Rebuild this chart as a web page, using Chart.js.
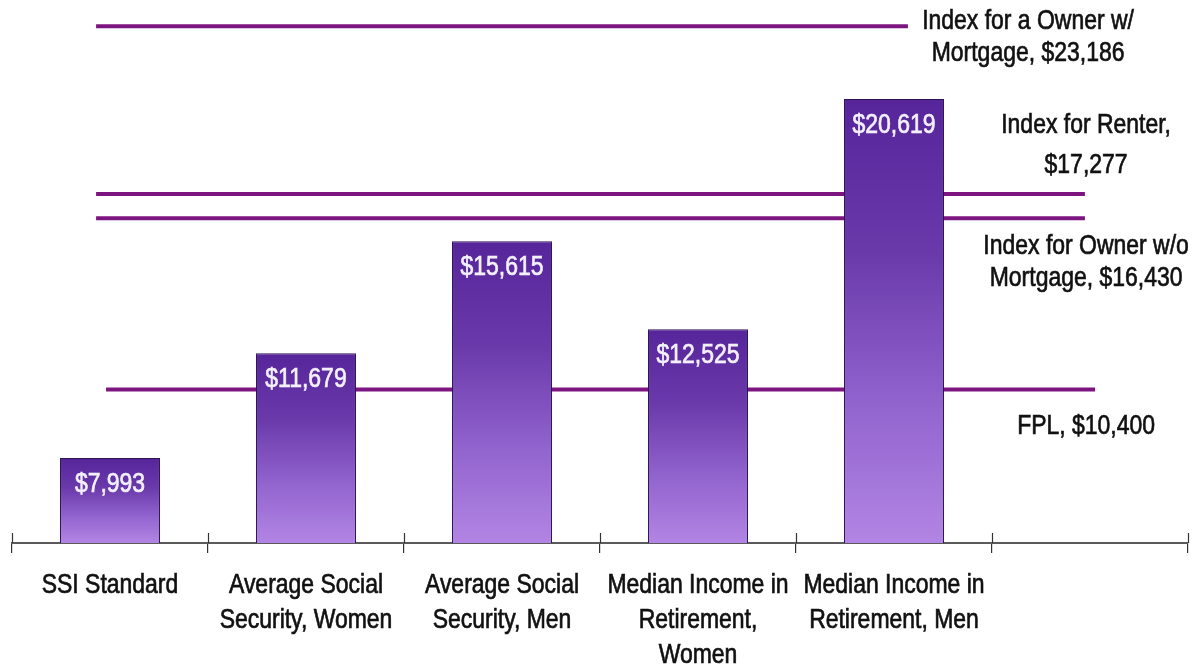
<!DOCTYPE html>
<html>
<head>
<meta charset="utf-8">
<script src="https://cdn.jsdelivr.net/npm/chart.js@4.4.1/dist/chart.umd.min.js"></script>
<style>
  html, body { margin: 0; padding: 0; background: #ffffff; }
  #wrap { width: 1194px; height: 669px; }
</style>
</head>
<body>
<div id="wrap"><canvas id="c" width="1194" height="669"></canvas></div>
<script>
// ---- data ----
const categories = [
  "SSI Standard",
  ["Average Social", "Security, Women"],
  ["Average Social", "Security, Men"],
  ["Median Income in", "Retirement,", "Women"],
  ["Median Income in", "Retirement, Men"],
  ""
];
const incomeValues = [7993, 11679, 15615, 12525, 20619, null];
const barLabels = ["$7,993", "$11,679", "$15,615", "$12,525", "$20,619", ""];

const refNames = ["Owner w/ Mortgage", "Renter", "Owner w/o Mortgage", "FPL"];
const refValues = [23186, 17277, 16430, 10400];
// horizontal extent of each reference line, in category units (-0.5 .. 5.5)
const refStart = [-0.071, -0.071, -0.071, -0.020];
const refEnd = [4.071, 4.974, 4.974, 5.026];
const refLabels = [
  ["Index for a Owner w/", "Mortgage, $23,186"],
  ["Index for Renter,", "$17,277"],
  ["Index for Owner w/o", "Mortgage, $16,430"],
  ["FPL, $10,400"]
];
// label anchor (category units, value of first text line centre)
const refLabelX = [4.684, 4.98, 4.98, 4.98];
const refLabelY = [23367, 19707, 15450, 9117];
const refLabelGap = [32, 40, 32, 0];

const yMin = 5000, yMax = 24000;

const FONT_FAMILY = '"Liberation Sans", Arial, sans-serif';
const FONT_SIZE = 28;
const NARROW = 0.82; // horizontal squeeze to mimic Arial Narrow

function narrowText(ctx, text, x, y, color) {
  ctx.save();
  ctx.translate(x, y);
  ctx.scale(NARROW, 1);
  ctx.fillStyle = color;
  ctx.strokeStyle = color;
  ctx.lineWidth = 0.7;
  ctx.fillText(text, 0, 0);
  ctx.strokeText(text, 0, 0);
  ctx.restore();
}

// ---- datasets ----
const datasets = [{
  type: 'bar',
  label: 'Income',
  data: incomeValues,
  xAxisID: 'x',
  yAxisID: 'y',
  order: 0,
  grouped: false,
  categoryPercentage: 1.0,
  barPercentage: 0.51,
  borderColor: '#2e1254',
  borderWidth: 1,
  borderSkipped: false,
  backgroundColor: (ctx) => {
    const chart = ctx.chart;
    const area = chart.chartArea;
    const v = incomeValues[ctx.dataIndex];
    if (!area || v == null) return '#7a4cb8';
    const top = chart.scales.y.getPixelForValue(v);
    const g = chart.ctx.createLinearGradient(0, top, 0, area.bottom);
    g.addColorStop(0, '#56259a');
    g.addColorStop(0.35, '#6a3aab');
    g.addColorStop(0.7, '#9365cf');
    g.addColorStop(1, '#b285e4');
    return g;
  }
}];
refValues.forEach((v, i) => {
  datasets.push({
    type: 'line',
    label: refNames[i],
    data: [{ x: refStart[i], y: v }, { x: refEnd[i], y: v }],
    xAxisID: 'xl',
    yAxisID: 'y',
    order: 1,
    borderColor: '#7d1580',
    borderWidth: 4,
    pointRadius: 0,
    fill: false,
    tension: 0
  });
});

// ---- plugins ----
const extras = {
  id: 'extras',
  beforeDatasetsDraw(chart) {
    // upper half of the category tick marks
    const ctx = chart.ctx;
    const xl = chart.scales.xl;
    const bottom = chart.chartArea.bottom;
    ctx.save();
    ctx.strokeStyle = '#333333';
    ctx.lineWidth = 1.2;
    for (let i = 0; i <= categories.length; i++) {
      const px = Math.round(xl.getPixelForValue(i - 0.5)) + 0.5;
      ctx.beginPath();
      ctx.moveTo(px, bottom - 10);
      ctx.lineTo(px, bottom);
      ctx.stroke();
    }
    ctx.restore();
  },
  afterDatasetsDraw(chart) {
    const ctx = chart.ctx;
    const meta = chart.getDatasetMeta(0);
    ctx.save();
    ctx.font = FONT_SIZE + 'px ' + FONT_FAMILY;
    ctx.textAlign = 'center';
    ctx.textBaseline = 'middle';
    meta.data.forEach((el, i) => {
      if (incomeValues[i] == null) return;
      narrowText(ctx, barLabels[i], el.x, el.y + 26, '#f4f0fa');
    });
    // reference line labels
    const xl = chart.scales.xl, y = chart.scales.y;
    refLabels.forEach((lines, i) => {
      const cx = xl.getPixelForValue(refLabelX[i]);
      const cy = y.getPixelForValue(refLabelY[i]);
      lines.forEach((t, j) => narrowText(ctx, t, cx, cy + j * refLabelGap[i], '#111111'));
    });
    // category labels under the axis
    const x = chart.scales.x;
    const base = chart.chartArea.bottom;
    categories.forEach((lab, i) => {
      const lines = Array.isArray(lab) ? lab : [lab];
      const cx = x.getPixelForTick(i);
      lines.forEach((t, j) => narrowText(ctx, t, cx, base + 42 + j * 35, '#111111'));
    });
    ctx.restore();
  }
};

new Chart(document.getElementById('c'), {
  type: 'bar',
  data: { labels: categories, datasets },
  options: {
    responsive: false,
    animation: false,
    devicePixelRatio: 1,
    layout: { padding: { top: 3, left: 12, right: 6, bottom: 0 } },
    plugins: { legend: { display: false }, tooltip: { enabled: false } },
    scales: {
      x: {
        type: 'category',
        offset: true,
        grid: {
          display: true, offset: true, drawOnChartArea: false, drawTicks: true,
          tickLength: 10, color: '#333333', lineWidth: 1.2
        },
        border: { display: true, color: '#5a5a5a', width: 2 },
        ticks: { display: false },
        afterFit(scale) { scale.height = 126; }
      },
      xl: {
        type: 'linear', display: false, offset: false, min: -0.5, max: 5.5,
        grid: { offset: false }
      },
      y: {
        type: 'linear', display: false, min: yMin, max: yMax
      }
    }
  },
  plugins: [extras]
});
</script>
</body>
</html>
